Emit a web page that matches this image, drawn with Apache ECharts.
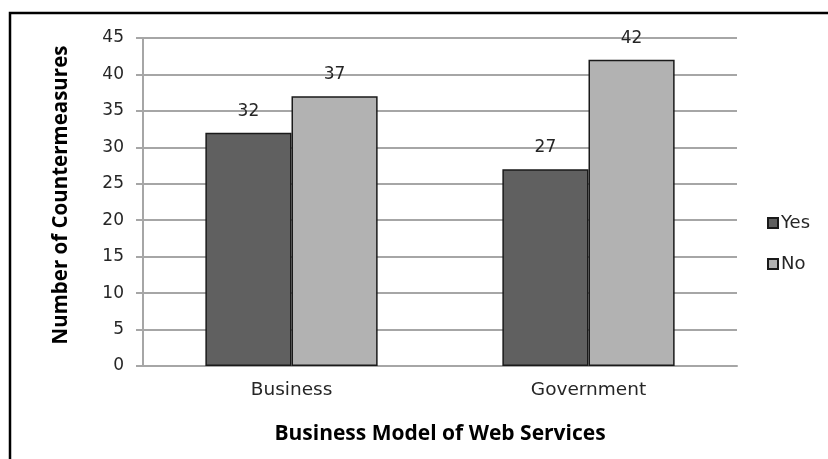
<!DOCTYPE html>
<html>
<head>
<meta charset="utf-8">
<script src="https://cdn.jsdelivr.net/npm/echarts@6/dist/echarts.min.js"></script>
<style>
  html, body { margin: 0; padding: 0; background: #fff; }
  #chart { width: 828px; height: 459px; }
</style>
</head>
<body>
<div id="chart"></div>
<script>
// Countermeasures by business model of web services
const categories = ['Business', 'Government'];
const yesValues = [32, 27];
const noValues = [37, 42];
const seriesNames = ['Yes', 'No'];

const FONT = '"DejaVu Sans", sans-serif';
const TITLE_FONT = '"Open Sans", "Liberation Sans", sans-serif';
const TEXT = '#262626';

const chart = echarts.init(document.getElementById('chart'), null, { renderer: 'canvas' });

function barSeries(name, values, color) {
  return {
    name: name,
    type: 'bar',
    data: values,
    barGap: '0%',
    barCategoryGap: '42%',
    itemStyle: { color: color, borderColor: '#1a1a1a', borderWidth: 1.5 },
    label: {
      show: true,
      position: 'top',
      distance: 13,
      color: TEXT,
      fontFamily: FONT,
      fontSize: 17
    },
    emphasis: { disabled: true }
  };
}

chart.setOption({
  animation: false,
  backgroundColor: '#ffffff',
  graphic: [{
    type: 'rect',
    shape: { x: 10, y: 13, width: 830, height: 460 },
    style: { fill: 'none', stroke: '#000', lineWidth: 2.5 },
    silent: true
  }],
  grid: { left: 143, right: 91, top: 38, bottom: 93 },
  legend: {
    orient: 'vertical',
    left: 762,
    top: 209,
    itemWidth: 10,
    itemHeight: 10,
    itemGap: 23,
    icon: 'rect',
    data: seriesNames,
    textStyle: { color: TEXT, fontFamily: FONT, fontSize: 18, padding: [0, 0, 0, -2] }
  },
  xAxis: {
    type: 'category',
    data: categories,
    name: 'Business Model of Web Services',
    nameLocation: 'middle',
    nameGap: 58,
    nameTextStyle: { color: '#000', fontFamily: TITLE_FONT, fontSize: 21, fontWeight: 'bold' },
    axisLine: { lineStyle: { color: '#a6a6a6', width: 2 } },
    axisTick: { show: false },
    axisLabel: { color: TEXT, fontFamily: FONT, fontSize: 18.5, margin: 15 }
  },
  yAxis: {
    type: 'value',
    min: 0,
    max: 45,
    interval: 5,
    name: 'Number of Countermeasures',
    nameLocation: 'middle',
    nameGap: 71,
    nameTextStyle: {
      color: '#000', fontFamily: TITLE_FONT, fontSize: 20.5, fontWeight: 'bold',
      padding: [0, 0, 0, 14]
    },
    axisLine: { show: true, lineStyle: { color: '#a6a6a6', width: 2 } },
    axisTick: { show: true, length: 7, lineStyle: { color: '#a6a6a6', width: 2 } },
    axisLabel: { color: TEXT, fontFamily: FONT, fontSize: 17, margin: 19 },
    splitLine: { lineStyle: { color: '#a6a6a6', width: 2 } }
  },
  series: [
    barSeries(seriesNames[0], yesValues, '#606060'),
    barSeries(seriesNames[1], noValues, '#b2b2b2')
  ]
});
</script>
</body>
</html>
